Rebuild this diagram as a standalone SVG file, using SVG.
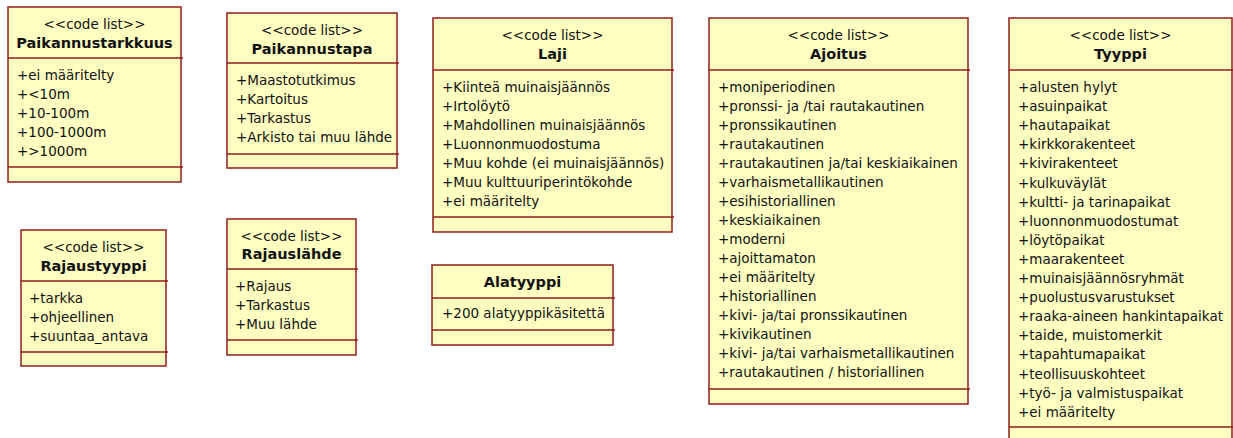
<svg xmlns="http://www.w3.org/2000/svg" width="1233" height="438" viewBox="0 0 1233 438">
<style>
.box{fill:#ffffc1;stroke:#921c1c;stroke-width:1.5}
.div{stroke:#921c1c;stroke-width:1.5}
.st{font-family:"DejaVu Sans",sans-serif;font-size:13.5px;fill:#111;text-anchor:middle}
.nm{font-family:"DejaVu Sans",sans-serif;font-size:14.5px;font-weight:bold;fill:#111;text-anchor:middle}
.at{font-family:"DejaVu Sans",sans-serif;font-size:13.5px;fill:#111}
</style>
<rect width="1233" height="438" fill="#ffffff"/>
<g id="connectors"></g>

<g id="Paikannustarkkuus">
<rect class="box" x="8" y="7" width="173" height="175"/>
<line class="div" x1="8" y1="58" x2="183" y2="58"/>
<line class="div" x1="8" y1="167" x2="183" y2="167"/>
<text class="st" x="94.5" y="28.5">&lt;&lt;code list&gt;&gt;</text>
<text class="nm" x="94.5" y="47.5">Paikannustarkkuus</text>
<text class="at" x="17" y="80">+ei määritelty</text>
<text class="at" x="17" y="99">+&lt;10m</text>
<text class="at" x="17" y="118">+10-100m</text>
<text class="at" x="17" y="137">+100-1000m</text>
<text class="at" x="17" y="156">+&gt;1000m</text>
</g>

<g id="Paikannustapa">
<rect class="box" x="227" y="13" width="170" height="155"/>
<line class="div" x1="227" y1="63" x2="399" y2="63"/>
<line class="div" x1="227" y1="154" x2="399" y2="154"/>
<text class="st" x="312" y="34.5">&lt;&lt;code list&gt;&gt;</text>
<text class="nm" x="312" y="53.5">Paikannustapa</text>
<text class="at" x="236" y="85">+Maastotutkimus</text>
<text class="at" x="236" y="104">+Kartoitus</text>
<text class="at" x="236" y="123">+Tarkastus</text>
<text class="at" x="236" y="142">+Arkisto tai muu lähde</text>
</g>

<g id="Laji">
<rect class="box" x="433" y="18" width="239" height="214"/>
<line class="div" x1="433" y1="70" x2="674" y2="70"/>
<line class="div" x1="433" y1="217" x2="674" y2="217"/>
<text class="st" x="552.5" y="39.5">&lt;&lt;code list&gt;&gt;</text>
<text class="nm" x="552.5" y="58.5">Laji</text>
<text class="at" x="442" y="92">+Kiinteä muinaisjäännös</text>
<text class="at" x="442" y="111">+Irtolöytö</text>
<text class="at" x="442" y="130">+Mahdollinen muinaisjäännös</text>
<text class="at" x="442" y="149">+Luonnonmuodostuma</text>
<text class="at" x="442" y="168">+Muu kohde (ei muinaisjäännös)</text>
<text class="at" x="442" y="187">+Muu kulttuuriperintökohde</text>
<text class="at" x="442" y="206">+ei määritelty</text>
</g>

<g id="Ajoitus">
<rect class="box" x="709" y="18" width="259" height="386"/>
<line class="div" x1="709" y1="70" x2="970" y2="70"/>
<line class="div" x1="709" y1="389" x2="970" y2="389"/>
<text class="st" x="838.5" y="39.5">&lt;&lt;code list&gt;&gt;</text>
<text class="nm" x="838.5" y="58.5">Ajoitus</text>
<text class="at" x="718" y="92">+moniperiodinen</text>
<text class="at" x="718" y="111">+pronssi- ja /tai rautakautinen</text>
<text class="at" x="718" y="130">+pronssikautinen</text>
<text class="at" x="718" y="149">+rautakautinen</text>
<text class="at" x="718" y="168">+rautakautinen ja/tai keskiaikainen</text>
<text class="at" x="718" y="187">+varhaismetallikautinen</text>
<text class="at" x="718" y="206">+esihistoriallinen</text>
<text class="at" x="718" y="225">+keskiaikainen</text>
<text class="at" x="718" y="244">+moderni</text>
<text class="at" x="718" y="263">+ajoittamaton</text>
<text class="at" x="718" y="282">+ei määritelty</text>
<text class="at" x="718" y="301">+historiallinen</text>
<text class="at" x="718" y="320">+kivi- ja/tai pronssikautinen</text>
<text class="at" x="718" y="339">+kivikautinen</text>
<text class="at" x="718" y="358">+kivi- ja/tai varhaismetallikautinen</text>
<text class="at" x="718" y="377">+rautakautinen / historiallinen</text>
</g>

<g id="Tyyppi">
<rect class="box" x="1009" y="18" width="223" height="430"/>
<line class="div" x1="1009" y1="70" x2="1233" y2="70"/>
<line class="div" x1="1009" y1="427" x2="1233" y2="427"/>
<text class="st" x="1120.5" y="39.5">&lt;&lt;code list&gt;&gt;</text>
<text class="nm" x="1120.5" y="58.5">Tyyppi</text>
<text class="at" x="1018" y="92">+alusten hylyt</text>
<text class="at" x="1018" y="111.1">+asuinpaikat</text>
<text class="at" x="1018" y="130.2">+hautapaikat</text>
<text class="at" x="1018" y="149.3">+kirkkorakenteet</text>
<text class="at" x="1018" y="168.4">+kivirakenteet</text>
<text class="at" x="1018" y="187.5">+kulkuväylät</text>
<text class="at" x="1018" y="206.6">+kultti- ja tarinapaikat</text>
<text class="at" x="1018" y="225.7">+luonnonmuodostumat</text>
<text class="at" x="1018" y="244.8">+löytöpaikat</text>
<text class="at" x="1018" y="263.9">+maarakenteet</text>
<text class="at" x="1018" y="283">+muinaisjäännösryhmät</text>
<text class="at" x="1018" y="302.1">+puolustusvarustukset</text>
<text class="at" x="1018" y="321.2">+raaka-aineen hankintapaikat</text>
<text class="at" x="1018" y="340.3">+taide, muistomerkit</text>
<text class="at" x="1018" y="359.4">+tapahtumapaikat</text>
<text class="at" x="1018" y="378.5">+teollisuuskohteet</text>
<text class="at" x="1018" y="397.6">+työ- ja valmistuspaikat</text>
<text class="at" x="1018" y="416.7">+ei määritelty</text>
</g>

<g id="Rajaustyyppi">
<rect class="box" x="21" y="230" width="145" height="136"/>
<line class="div" x1="21" y1="281" x2="168" y2="281"/>
<line class="div" x1="21" y1="352" x2="168" y2="352"/>
<text class="st" x="93.5" y="251.5">&lt;&lt;code list&gt;&gt;</text>
<text class="nm" x="93.5" y="270.5">Rajaustyyppi</text>
<text class="at" x="29" y="303">+tarkka</text>
<text class="at" x="29" y="322">+ohjeellinen</text>
<text class="at" x="29" y="341">+suuntaa_antava</text>
</g>

<g id="Rajauslahde">
<rect class="box" x="227" y="219" width="129" height="136"/>
<line class="div" x1="227" y1="269" x2="358" y2="269"/>
<line class="div" x1="227" y1="340" x2="358" y2="340"/>
<text class="st" x="291.5" y="240.5">&lt;&lt;code list&gt;&gt;</text>
<text class="nm" x="291.5" y="259">Rajauslähde</text>
<text class="at" x="235" y="291">+Rajaus</text>
<text class="at" x="235" y="310">+Tarkastus</text>
<text class="at" x="235" y="329">+Muu lähde</text>
</g>

<g id="Alatyyppi">
<rect class="box" x="432" y="265" width="181" height="80"/>
<line class="div" x1="432" y1="298" x2="615" y2="298"/>
<line class="div" x1="432" y1="330" x2="615" y2="330"/>
<text class="nm" x="522.5" y="287">Alatyyppi</text>
<text class="at" x="442" y="318">+200 alatyyppikäsitettä</text>
</g>
</svg>
